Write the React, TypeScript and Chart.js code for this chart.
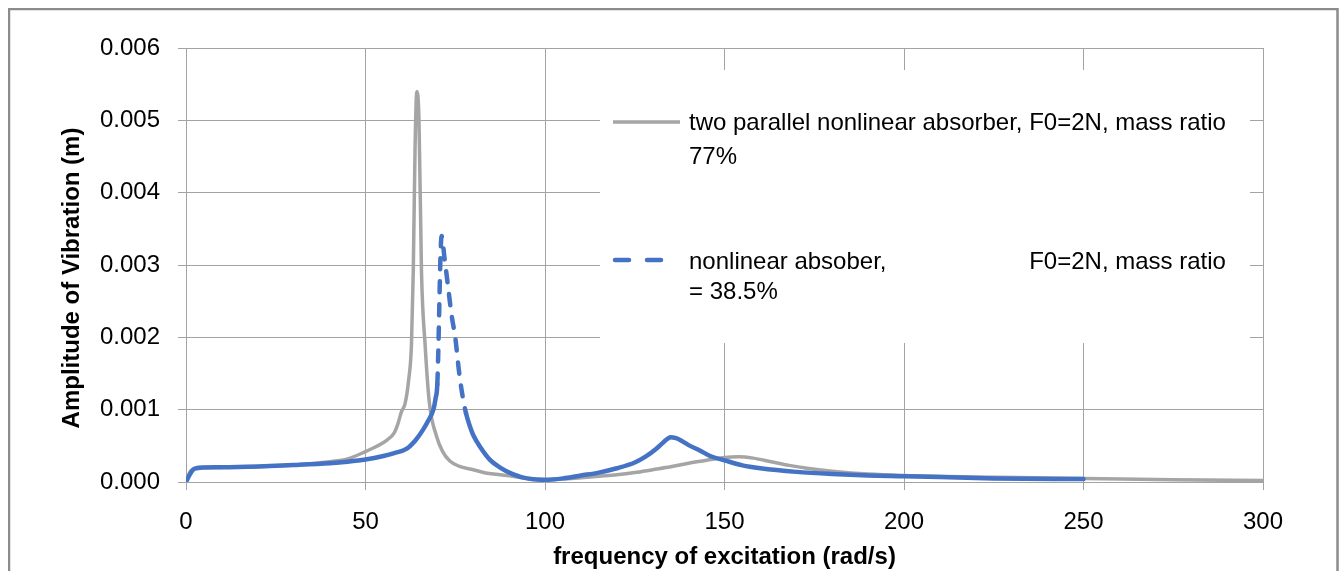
import React, { useEffect, useRef } from "react";
import { Chart, registerables } from "chart.js";

Chart.register(...registerables);

// ---- data ----
const grayFreq = [0, 1, 2, 3, 5, 10, 20, 30, 40, 45, 50, 53, 56, 58, 59, 60, 61, 62, 62.8, 63.3, 63.8, 64.3, 64.9, 65.6, 66.6, 67.8, 69.8, 71.5, 73.5, 76, 80, 84, 87.5, 91, 95, 100, 105, 110, 115, 120, 125, 130, 135, 140, 145, 150, 154, 158, 163, 168, 173, 180, 190, 200, 220, 250, 275, 300];
const grayAmp = [0, 0.00013, 0.00018, 0.0002, 0.0002, 0.000202, 0.000212, 0.000235, 0.00028, 0.00032, 0.00042, 0.00049, 0.00058, 0.00068, 0.0008, 0.00097, 0.00108, 0.0014, 0.0019, 0.0029, 0.0046, 0.0054, 0.005, 0.0029, 0.0019, 0.00109, 0.00063, 0.00042, 0.00029, 0.00022, 0.00017, 0.00012, 0.0001, 0.00008, 0.00005, 0.00003, 0.00004, 0.00006, 0.00008, 0.0001, 0.00013, 0.00017, 0.00021, 0.00026, 0.0003, 0.00034, 0.00035, 0.00033, 0.00028, 0.00023, 0.00019, 0.00015, 0.00011, 0.00009, 0.00007, 0.00005, 0.00003, 0.00002];

const blueFreq = [0, 1, 2, 3, 5, 10, 20, 30, 40, 45, 50, 55, 58, 61.5, 64, 66, 67.5, 68.9, 69.5, 70, 71.2, 72, 73, 74, 75, 76, 77, 78, 79, 80, 82, 84.6, 87.5, 91, 95, 100, 105, 110, 115, 120, 125, 128, 131, 133, 135, 136.5, 138, 140, 143, 146, 150, 155, 160, 170, 180, 190, 200, 225, 250];
const blueAmp = [0, 0.0001, 0.00017, 0.00019, 0.0002, 0.000203, 0.000215, 0.000235, 0.00026, 0.00028, 0.00031, 0.00036, 0.0004, 0.00046, 0.00058, 0.00072, 0.00085, 0.001, 0.00115, 0.00135, 0.0034, 0.0031, 0.0027, 0.0023, 0.002, 0.00155, 0.0012, 0.00095, 0.00078, 0.00065, 0.00048, 0.00031, 0.0002, 0.00011, 0.00005, 0.00003, 0.00005, 0.00009, 0.00013, 0.00019, 0.00027, 0.00035, 0.00046, 0.00055, 0.00062, 0.000605, 0.00057, 0.00051, 0.00044, 0.00036, 0.0003, 0.00023, 0.00019, 0.00014, 0.00011, 0.00009, 0.00008, 0.00005, 0.00004];

const xMin = 0;
const xMax = 300;
const xStep = 50;
const yMin = 0;
const yMax = 0.006;
const yStep = 0.001;

const grayLegend = ["two parallel nonlinear absorber, F0=2N, mass ratio", "77%"];
const blueLegendLeft = "nonlinear absober,";
const blueLegendRight = "F0=2N, mass ratio";
const blueLegendLine2 = "= 38.5%";
const xTitle = "frequency of excitation (rad/s)";
const yTitle = "Amplitude of Vibration (m)";

const FONT = "'Liberation Sans', Arial, sans-serif";
const GRID = "#a3a3a3";
const GRAY = "#a5a5a5";
const BLUE = "#4472c4";

const W = 1332;
const H = 563;

const decorPlugin = {
  id: "decor",
  beforeDraw(chart: any) {
    const ctx = chart.ctx;
    ctx.save();
    ctx.fillStyle = "#ffffff";
    ctx.fillRect(0, 0, chart.width, chart.height);
    ctx.strokeStyle = "#8c8c8c";
    ctx.lineWidth = 2.5;
    ctx.strokeRect(1, 1, 1328.5, 620);
    ctx.restore();
  },
  afterDraw(chart: any) {
    const ctx = chart.ctx;
    const area = chart.chartArea;
    ctx.save();
    // axis titles
    ctx.fillStyle = "#000";
    ctx.font = `bold 24px ${FONT}`;
    ctx.textAlign = "center";
    ctx.textBaseline = "middle";
    ctx.fillText(xTitle, (area.left + area.right) / 2, 549);
    ctx.save();
    ctx.translate(64, 270);
    ctx.rotate(-Math.PI / 2);
    ctx.fillText(yTitle, 0, 0);
    ctx.restore();

    // legend box
    ctx.fillStyle = "#ffffff";
    ctx.fillRect(592, 62, 650, 273);

    ctx.lineCap = "butt";
    ctx.strokeStyle = GRAY;
    ctx.lineWidth = 3.5;
    ctx.beginPath();
    ctx.moveTo(605, 114);
    ctx.lineTo(672, 114);
    ctx.stroke();

    ctx.strokeStyle = BLUE;
    ctx.lineWidth = 4.5;
    ctx.lineCap = "round";
    ctx.setLineDash([14, 18]);
    ctx.beginPath();
    ctx.moveTo(607, 252);
    ctx.lineTo(660, 252);
    ctx.stroke();
    ctx.setLineDash([]);

    ctx.fillStyle = "#000";
    ctx.font = `24px ${FONT}`;
    ctx.textAlign = "left";
    ctx.textBaseline = "middle";
    ctx.fillText(grayLegend[0], 681, 115);
    ctx.fillText(grayLegend[1], 681, 149);
    const line1W = ctx.measureText(grayLegend[0]).width;
    ctx.fillText(blueLegendLeft, 681, 254);
    ctx.textAlign = "right";
    ctx.fillText(blueLegendRight, 681 + line1W, 254);
    ctx.textAlign = "left";
    ctx.fillText(blueLegendLine2, 681, 284);
    ctx.restore();
  },
};

export default function App() {
  const ref = useRef<HTMLCanvasElement>(null);

  useEffect(() => {
    const grayData = grayFreq.map((x, i) => ({ x, y: grayAmp[i] }));
    const blueData = blueFreq.map((x, i) => ({ x, y: blueAmp[i] }));
    const chart = new Chart(ref.current as HTMLCanvasElement, {
      type: "line",
      data: {
        datasets: [
          {
            label: grayLegend.join(" "),
            data: grayData,
            borderColor: GRAY,
            borderWidth: 3.5,
            pointRadius: 0,
            cubicInterpolationMode: "monotone",
            order: 2,
          },
          {
            label: `${blueLegendLeft} ${blueLegendRight} ${blueLegendLine2}`,
            data: blueData,
            borderColor: BLUE,
            borderWidth: 4.5,
            borderCapStyle: "round",
            pointRadius: 0,
            cubicInterpolationMode: "monotone",
            order: 1,
            segment: {
              borderDash: (c: any) =>
                Math.abs(c.p1.y - c.p0.y) > 15 ? [11, 12] : undefined,
            },
          },
        ],
      } as any,
      options: {
        responsive: false,
        animation: false,
        events: [],
        layout: { padding: { top: 40, right: 77, left: 0, bottom: 0 } },
        plugins: {
          legend: { display: false },
          tooltip: { enabled: false },
          title: { display: false },
        },
        scales: {
          x: {
            type: "linear",
            min: xMin,
            max: xMax,
            ticks: {
              stepSize: xStep,
              color: "#000",
              font: { family: FONT, size: 24 },
              padding: 18,
              maxRotation: 0,
            },
            grid: { color: GRID, lineWidth: 1, tickLength: 8, drawTicks: true },
            border: { display: true, color: GRID },
            afterFit: (s: any) => {
              s.height = 89;
            },
          },
          y: {
            type: "linear",
            min: yMin,
            max: yMax,
            ticks: {
              stepSize: yStep,
              color: "#000",
              font: { family: FONT, size: 24 },
              padding: 18,
              callback: (v: any) => Number(v).toFixed(3),
            },
            grid: { color: GRID, lineWidth: 1, tickLength: 8, drawTicks: true },
            border: { display: true, color: GRID },
            afterFit: (s: any) => {
              s.width = 178;
            },
          },
        },
      } as any,
      plugins: [decorPlugin],
    });
    return () => chart.destroy();
  }, []);

  return (
    <div style={{ position: "fixed", left: 8, top: 8, width: W, height: H }}>
      <canvas
        ref={ref}
        width={W}
        height={H}
        style={{ display: "block", width: W, height: H }}
      />
    </div>
  );
}
